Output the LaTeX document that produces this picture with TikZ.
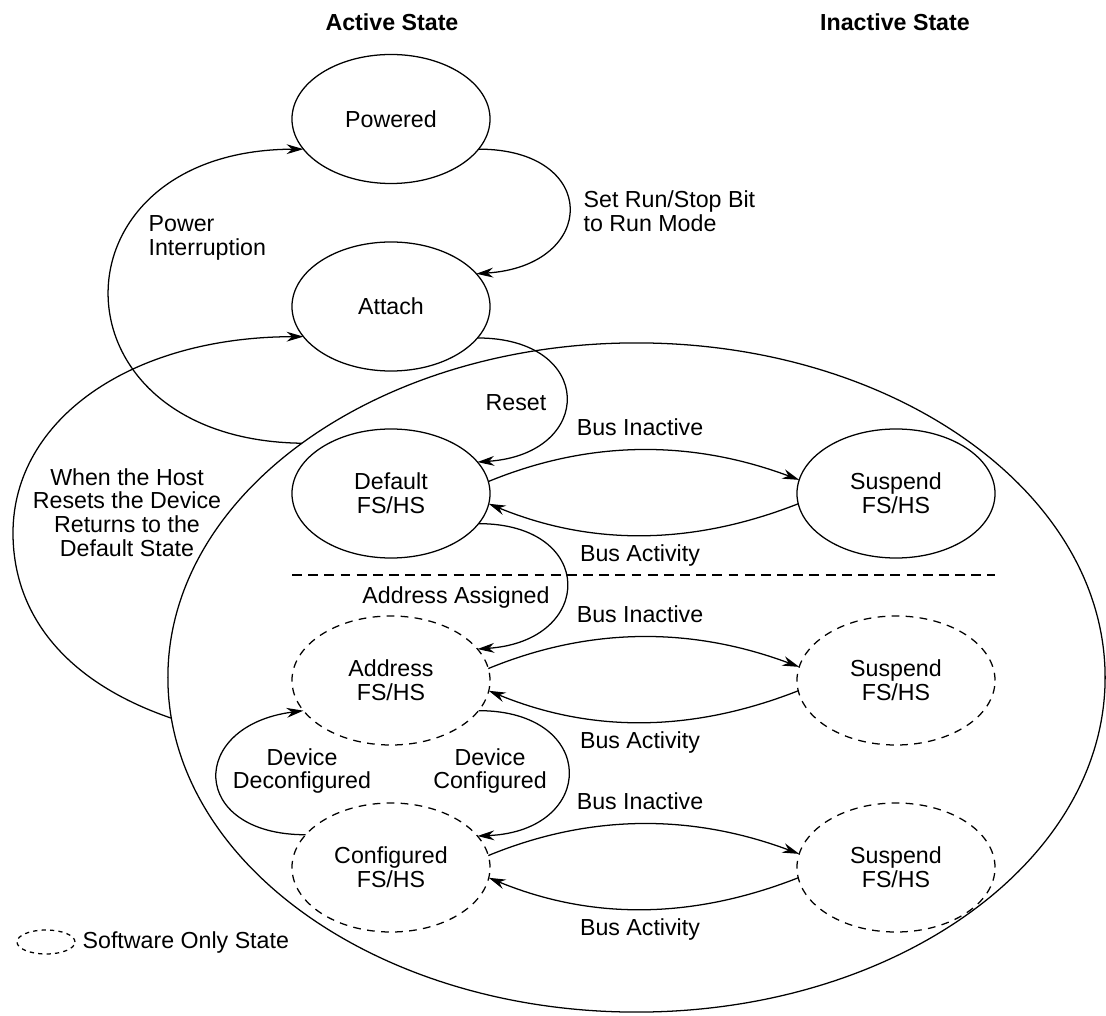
\documentclass[tikz,border=0pt]{standalone}
\usepackage{fontspec}
\setmainfont{Liberation Sans}
\usetikzlibrary{shapes.geometric, arrows.meta}
\newcommand{\usbfont}{\fontsize{16.5}{16.8}\selectfont}
\tikzset{
  usbstate/.style={ellipse, draw, minimum width=4.95cm, minimum height=3.225cm,
    inner sep=0pt, outer sep=0pt, align=center},
  swstate/.style={usbstate, dash pattern=on 5.5pt off 4.5pt},
  edgelbl/.style={align=center, inner sep=0pt}
}

\begin{document}
\begin{tikzpicture}[x=0.025cm, y=-0.025cm, line width=0.9pt, font=\usbfont,
    >={Stealth[length=12pt, width=7pt]}]
  \useasboundingbox (0,0) rectangle (1106,1016);
  % column headings
  \node[font=\usbfont\bfseries] (hactive) at (392,22) {Active State};
  \node[font=\usbfont\bfseries] (hinactive) at (895,22) {Inactive State};
  % region of the attached device
  \node[ellipse, draw, minimum width=23.425cm, minimum height=16.725cm,
    inner sep=0pt, outer sep=0pt] (bus) at (636.5,677.5) {};
  % active states
  \node[usbstate] (powered) at (391,119) {Powered};
  \node[usbstate] (attach) at (391,306.5) {Attach};
  \node[usbstate] (default) at (391,493.5) {Default\\FS/HS};
  \node[swstate] (address) at (391,680.5) {Address\\FS/HS};
  \node[swstate] (configured) at (391,867.5) {Configured\\FS/HS};
  % inactive states
  \node[usbstate] (suspA) at (896,493.5) {Suspend\\FS/HS};
  \node[swstate] (suspB) at (896,680.5) {Suspend\\FS/HS};
  \node[swstate] (suspC) at (896,867.5) {Suspend\\FS/HS};
  % hardware / software split
  \draw[dash pattern=on 7pt off 4.5pt] (292,575) -- (995,575);
  % power up and attach
  \draw[->] (powered.-19) .. controls +(122,0) and +(122,-8) .. (attach.21);
  \node[edgelbl, align=left, anchor=west] (runlbl) at (583,211) {Set Run/Stop Bit\\to Run Mode};
  \draw[->] (bus.145.35) .. controls (45,440) and (45,150) .. (powered.-161.4);
  \node[edgelbl, align=left, anchor=west] (pwrlbl) at (148,238) {Power\\Interruption};
  \draw[->] (bus.-175.1) .. controls (60,680) and (13,610) .. (13,533)
    .. controls (13,420) and (130,337) .. (attach.-161.5);
  \node[edgelbl] (hostlbl) at (127,512.5) {When the Host\\Resets the Device\\Returns to the\\Default State};
  % reset and addressing
  \draw[->] (attach.-20) .. controls +(118,0) and +(118,-8) .. (default.20);
  \node[edgelbl] (rstlbl) at (516,403) {Reset};
  \draw[->] (default.-19) .. controls +(118,0) and +(118,-8) .. (address.20);
  \node[edgelbl] (addrlbl) at (456,598) {Address Assigned};
  % configuration
  \draw[->] (address.-19.5) .. controls +(120,0) and +(120,-5) .. (configured.20);
  \node[edgelbl] (cfglbl) at (490,771) {Device\\Configured};
  \draw[->] (configured.159.7) .. controls +(-117,0) and +(-116,15) .. (address.-161.7);
  \node[edgelbl] (decfglbl) at (302,771) {Device\\Deconfigured};
  % suspend and resume
  \foreach \a/\s/\y in {default/suspA/493.5, address/suspB/680.5, configured/suspC/867.5}{
    \draw[->] (\a.7) .. controls +(102,-42) and +(-107,-40) .. (\s.172);
    \draw[->] (\s.186) .. controls +(-107,42) and +(102,42) .. (\a.-6);
    \node[edgelbl] (off-\a) at (640,\y-66) {Bus Inactive};
    \node[edgelbl] (on-\a) at (640,\y+62) {Bus Activity};
  }
  % legend
  \node[ellipse, draw, dash pattern=on 3pt off 3pt, minimum width=1.45cm,
    minimum height=0.6cm, inner sep=0pt, outer sep=0pt] (legend) at (46,942) {};
  \node[edgelbl, anchor=west] (legendlbl) at (82,942) {Software Only State};
\end{tikzpicture}
\end{document}
